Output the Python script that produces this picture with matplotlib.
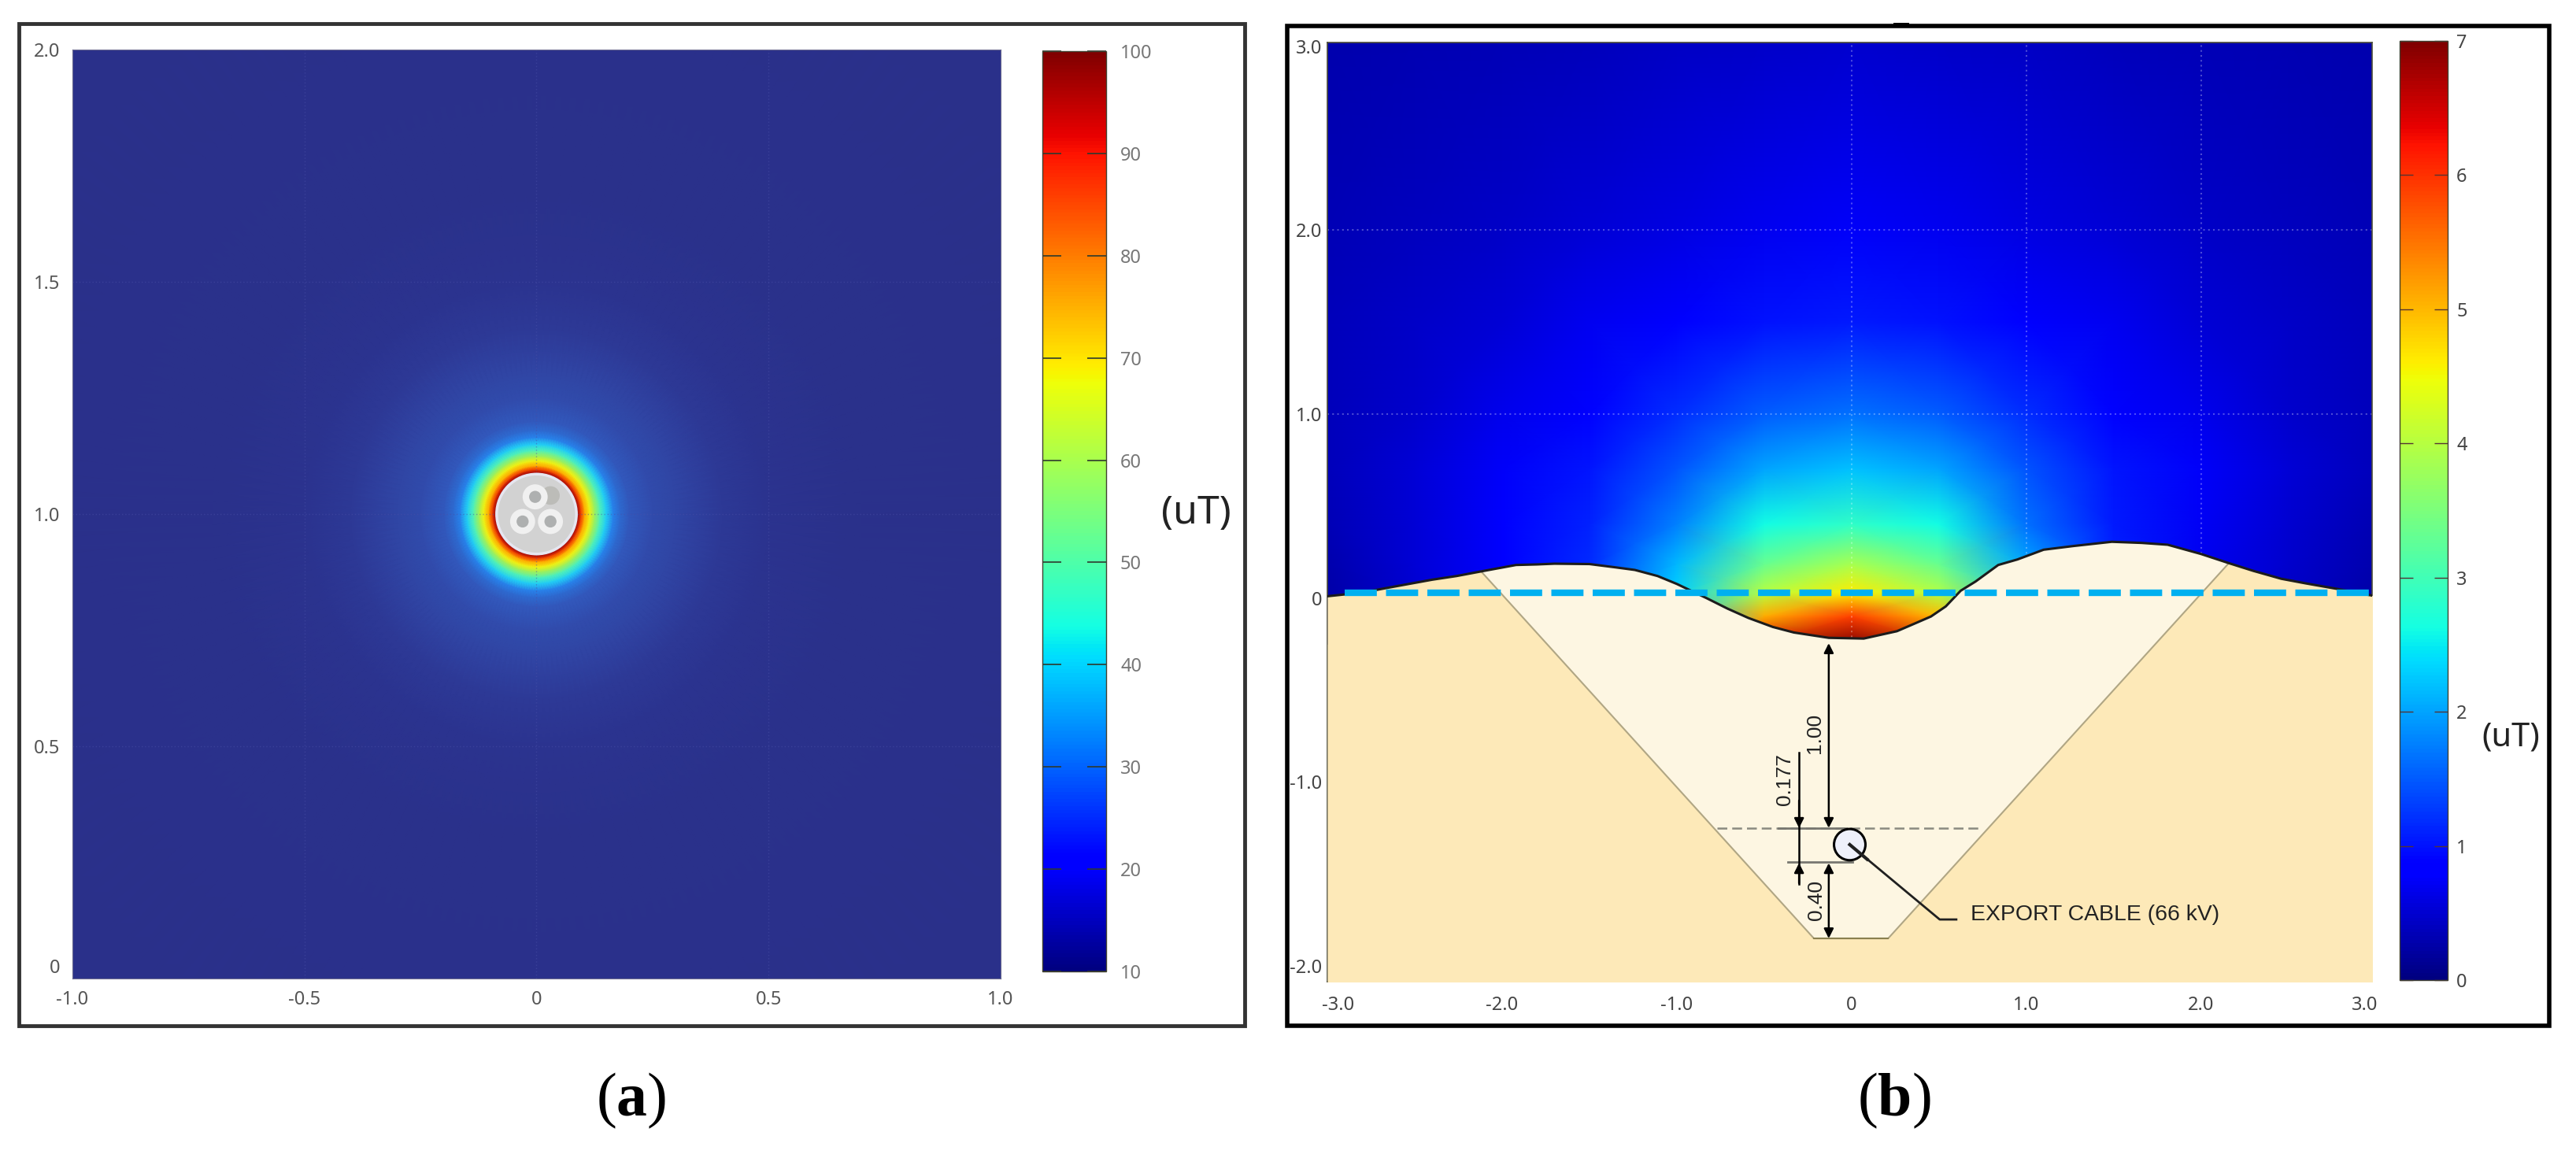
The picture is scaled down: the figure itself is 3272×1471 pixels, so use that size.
import numpy as np
import matplotlib
matplotlib.use("Agg")
import matplotlib.pyplot as plt
from matplotlib.cm import ScalarMappable
from matplotlib.colors import LinearSegmentedColormap, Normalize
from matplotlib.patches import Circle, Ellipse, Rectangle

W, H = 3273, 1471

plt.rcParams['font.family'] = ['Noto Sans', 'DejaVu Sans']
plt.rcParams['mathtext.fontset'] = 'custom'
plt.rcParams['mathtext.rm'] = 'Liberation Serif'
plt.rcParams['mathtext.bf'] = 'Liberation Serif:bold'

# panel a: field against distance from the cable centre
radius_a = [0.086, 0.09, 0.096, 0.104, 0.114, 0.125, 0.137, 0.15, 0.165, 0.18, 0.2,
            0.25, 0.3, 0.4, 0.5, 0.7, 1.45]
field_a = [100, 94, 84, 74, 65, 56, 47, 39, 30, 24, 19.5, 16.5, 15, 13, 11.5, 10.5, 10]
cable_center_a = (0.0, 1.0)
core_x = [-0.003, -0.03, 0.03]
core_y = [0.037, -0.016, -0.016]

# mesh colours of panel a are duller than its colour bar
mesh_values_a = [10, 12, 15, 20, 30, 38, 45, 55, 65, 75, 85, 95, 100]
mesh_colors_a = ['#2a308a', '#2c3491', '#3046a5', '#325abe', '#2882eb', '#1ec8fa', '#3cf0d2',
                 '#96f064', '#f0f014', '#ffaa00', '#f03c00', '#aa0a0a', '#780000']

# panel b: field read on a coarse grid, hidden below the sea bed
grid_x_b = [-3, -2.5, -2, -1.5, -1, -0.5, 0, 0.5, 1, 1.5, 2, 2.5, 3]
grid_y_b = [3.05, 2, 1.5, 1, 0.7, 0.4, 0.18, 0.03, -0.1, -0.25]
field_b = [
    [.30, .32, .34, .38, .42, .46, .48, .46, .42, .38, .34, .32, .30],
    [.34, .40, .46, .54, .62, .70, .74, .70, .62, .54, .46, .40, .34],
    [.36, .44, .54, .70, .86, 1.0, 1.05, 1.0, .86, .70, .54, .44, .36],
    [.38, .48, .66, .90, 1.2, 1.52, 1.65, 1.52, 1.2, .90, .66, .48, .38],
    [.38, .52, .74, 1.02, 1.45, 2.0, 2.2, 2.0, 1.45, 1.02, .74, .52, .38],
    [.34, .54, .78, 1.1, 1.75, 2.6, 2.85, 2.6, 1.65, 1.05, .72, .50, .32],
    [.28, .52, .80, 1.15, 2.15, 3.35, 3.9, 3.35, 2.05, 1.1, .70, .48, .28],
    [.25, .50, .80, 1.2, 2.3, 4.0, 4.6, 3.95, 2.3, 1.1, .70, .46, .25],
    [.20, .50, .80, 1.2, 2.4, 5.1, 5.9, 5.0, 2.4, 1.1, .70, .45, .20],
    [.20, .50, .80, 1.2, 2.5, 6.5, 7.0, 6.4, 2.5, 1.1, .70, .45, .20],
]

surface_x = [-3.0, -2.8, -2.66, -2.40, -2.26, -2.12, -1.92, -1.8, -1.70, -1.50, -1.35, -1.24, -1.11, -1.0,
             -0.83, -0.71, -0.59, -0.45, -0.33, -0.13, 0.07, 0.26, 0.37, 0.455, 0.54, 0.625, 0.71, 0.84, 0.95,
             1.10, 1.27, 1.49, 1.66, 1.81, 2.0, 2.16, 2.3, 2.46, 2.6, 2.78, 3.0]
surface_y = [0.01, 0.03, 0.055, 0.10, 0.12, 0.145, 0.18, 0.183, 0.187, 0.185, 0.167, 0.153, 0.12, 0.077,
             0.0, -0.057, -0.108, -0.157, -0.187, -0.216, -0.22, -0.18, -0.135, -0.10, -0.045, 0.04, 0.09, 0.18, 0.21,
             0.263, 0.283, 0.306, 0.30, 0.29, 0.24, 0.19, 0.148, 0.105, 0.08, 0.05, 0.01]
trench_x = [-2.12, -0.215, 0.21, 2.16]
trench_y = [0.145, -1.85, -1.85, 0.19]
cable_b = (-0.01, -1.34)

ticks_a_x = [-1.0, -0.5, 0.0, 0.5, 1.0]
labels_a_x = ['-1.0', '-0.5', '0', '0.5', '1.0']
ticks_a_y = [0.027, 0.5, 1.0, 1.5, 2.0]  # the 0 label sits above the corner
labels_a_y = ['0', '0.5', '1.0', '1.5', '2.0']
ticks_b_x = [-2.94, -2.0, -1.0, 0.0, 1.0, 2.0, 2.94]
labels_b_x = ['-3.0', '-2.0', '-1.0', '0', '1.0', '2.0', '3.0']
ticks_b_y = [-2.0, -1.0, 0.0, 1.0, 2.0, 3.0]
labels_b_y = ['-2.0', '-1.0', '0', '1.0', '2.0', '3.0']
cbar_ticks_a = [10, 20, 30, 40, 50, 60, 70, 80, 90, 100]
cbar_ticks_b = [0, 1, 2, 3, 4, 5, 6, 7]


def px_axes(fig, left, top, right, bottom):
    return fig.add_axes([left / W, 1 - bottom / H, (right - left) / W, (bottom - top) / H])


def px_frame(fig, left, top, right, bottom, color, lw):
    fig.add_artist(Rectangle((left / W, 1 - bottom / H), (right - left) / W, (bottom - top) / H,
                             transform=fig.transFigure, fill=False, ec=color, lw=lw))


def colorbar(fig, box, vmin, vmax, ticks, tick_len, tick_color, tick_lw, label_color, pad):
    cax = px_axes(fig, *box)
    sm = ScalarMappable(norm=Normalize(vmin, vmax), cmap='jet')
    cb = fig.colorbar(sm, cax=cax)
    cb.set_ticks(ticks)
    cb.set_ticklabels([str(t) for t in ticks])
    cax.tick_params(axis='y', direction='in', left=True, right=True, length=tick_len, width=tick_lw,
                    color=tick_color, labelsize=17, labelcolor=label_color, pad=pad)
    cb.outline.set_edgecolor('#404030')
    cb.outline.set_linewidth(1.0)
    return cb


fig = plt.figure(figsize=(W / 100, H / 100), dpi=100, facecolor='white')

px_frame(fig, 24, 30, 1581, 1303, '#333333', 3.5)
px_frame(fig, 1635, 33, 3238, 1303, '#000000', 4)
fig.add_artist(Rectangle((2405 / W, 1 - 35 / H), 20 / W, 6 / H, transform=fig.transFigure, fc='k', ec='none'))

# ---- panel a ----
ax_a = px_axes(fig, 92, 63, 1271, 1243)
theta = np.radians(np.arange(0, 361, 2))
rr, tt = np.meshgrid(radius_a, theta)
cc = np.tile(field_a, (len(theta), 1))
cmap_a = LinearSegmentedColormap.from_list(
    'mesh_a', [((v - 10) / 90, c) for v, c in zip(mesh_values_a, mesh_colors_a)])
ax_a.set_facecolor(mesh_colors_a[0])
ax_a.pcolormesh(cable_center_a[0] + rr * np.cos(tt), cable_center_a[1] + rr * np.sin(tt), cc,
                shading='gouraud', cmap=cmap_a, vmin=10, vmax=100)
for t in [-0.5, 0.0, 0.5]:
    ax_a.axvline(t, color='#4a50a8', lw=1, ls=(0, (1, 2)), alpha=0.5)
for t in [0.5, 1.0, 1.5]:
    ax_a.axhline(t, color='#4a50a8', lw=1, ls=(0, (1, 2)), alpha=0.5)
ax_a.add_patch(Circle(cable_center_a, radius_a[0], fc='#d2d2d2', ec='#e6e6f0', lw=2.5, zorder=4))
ax_a.add_patch(Circle((0.03, 1.04), 0.02, fc='#bcbcb8', ec='none', zorder=4))
for cx, cy in zip(core_x, core_y):
    ax_a.add_patch(Circle((cable_center_a[0] + cx, cable_center_a[1] + cy), 0.027, fc='#f0f0f0', ec='none', zorder=5))
    ax_a.add_patch(Circle((cable_center_a[0] + cx, cable_center_a[1] + cy), 0.013, fc='#aeb0b0', ec='none', zorder=6))
ax_a.set_xlim(-1, 1)
ax_a.set_ylim(0, 2)
ax_a.set_xticks(ticks_a_x, labels_a_x)
ax_a.set_yticks(ticks_a_y, labels_a_y)
ax_a.tick_params(length=0, labelsize=17, labelcolor='#555555')
ax_a.tick_params(axis='x', pad=11)
ax_a.tick_params(axis='y', pad=11)
for s in ax_a.spines.values():
    s.set_edgecolor('#6a6a90')
    s.set_linewidth(0.8)

colorbar(fig, (1324, 65, 1405, 1234), 10, 100, cbar_ticks_a, 17, '#2e3a2e', 1.2, '#777777', 13)
fig.text(1519 / W, 1 - 652 / H, '(uT)', fontsize=36, color='#222222', ha='center', va='center')

# ---- panel b ----
ax_b = px_axes(fig, 1686, 54, 3013, 1247)
gx, gy = np.meshgrid(grid_x_b, grid_y_b)
ax_b.pcolormesh(gx, gy, np.array(field_b), shading='gouraud', cmap='jet', vmin=0, vmax=7)
for t in [0.0, 1.0, 2.0]:
    ax_b.axvline(t, color='white', lw=1.5, ls=(0, (1, 2)), alpha=0.3, zorder=2)
for t in [1.0, 2.0]:
    ax_b.axhline(t, color='white', lw=1.5, ls=(0, (1, 2)), alpha=0.3, zorder=2)

# sea bed, then the backfilled trench over it
ax_b.fill_between(surface_x, surface_y, -2.2, color='#fde9b8', lw=0, zorder=3)
sx = np.array(surface_x)
sy = np.array(surface_y)
inside = (sx > trench_x[0]) & (sx < trench_x[-1])
poly_x = [trench_x[0]] + list(sx[inside]) + trench_x[::-1][:-1]
poly_y = [trench_y[0]] + list(sy[inside]) + trench_y[::-1][:-1]
ax_b.fill(poly_x, poly_y, color='#fdf6e2', lw=0, zorder=4)
ax_b.plot(trench_x, trench_y, color='#b0a684', lw=1.5, zorder=5)
ax_b.plot(surface_x, surface_y, color='#1c1c1c', lw=2.2, zorder=6)
ax_b.plot([-2.9, 3.0], [0.03, 0.03], color='#00b0f0', lw=6, ls=(0, (4.9, 1.4)), zorder=7, solid_capstyle='butt')

# trench dimensions
ax_b.plot([-0.77, 0.75], [-1.25, -1.25], color='#8a8a80', lw=1.8, ls=(0, (5, 2.5)), zorder=7)
ax_b.plot([-0.42, -0.03], [-1.25, -1.25], color='#777770', lw=2, zorder=7)
ax_b.plot([-0.365, 0.005], [-1.433, -1.433], color='#777770', lw=2, zorder=7)
ax_b.plot([-0.215, 0.21], [-1.85, -1.85], color='#8a8050', lw=1.5, zorder=7)
for y0, y1 in [(-0.245, -1.25), (-1.44, -1.85)]:
    ax_b.annotate('', xy=(-0.13, y1), xytext=(-0.13, y0), zorder=8,
                  arrowprops=dict(arrowstyle='<|-|>', color='k', lw=1.8, mutation_scale=18, shrinkA=0, shrinkB=0))
ax_b.plot([-0.30, -0.30], [-0.84, -1.555], color='k', lw=1.8, zorder=8)
ax_b.annotate('', xy=(-0.30, -1.25), xytext=(-0.30, -1.1), zorder=8,
              arrowprops=dict(arrowstyle='-|>', color='k', lw=1.8, mutation_scale=18, shrinkA=0, shrinkB=0))
ax_b.annotate('', xy=(-0.30, -1.44), xytext=(-0.30, -1.55), zorder=8,
              arrowprops=dict(arrowstyle='-|>', color='k', lw=1.8, mutation_scale=18, shrinkA=0, shrinkB=0))
ax_b.plot([cable_b[0], 0.505, 0.6], [cable_b[1], -1.747, -1.747], color='#202020', lw=2, zorder=8)
ax_b.add_patch(Ellipse(cable_b, 0.18, 0.17, fc='#eef0fa', ec='k', lw=2.2, zorder=8))
ax_b.plot([cable_b[0], 0.09], [cable_b[1], -1.42], color='#202020', lw=3, zorder=9)

dim_font = dict(family='Liberation Sans', fontsize=19, color='#222222', rotation=90,
                ha='center', va='center', zorder=9)
ax_b.text(-0.21, -0.735, '1.00', **dim_font)
ax_b.text(-0.38, -0.985, '0.177', **dim_font)
ax_b.text(-0.20, -1.64, '0.40', **dim_font)
ax_b.text(0.68, -1.72, 'EXPORT CABLE (66 kV)', family='Liberation Sans', fontsize=20.4, color='#222222',
          ha='left', va='center', zorder=9)

ax_b.set_xlim(-3.0, 2.98)
ax_b.set_ylim(-2.085, 3.02)
ax_b.set_xticks(ticks_b_x, labels_b_x)
ax_b.set_yticks(ticks_b_y, labels_b_y)
ax_b.tick_params(length=0, labelsize=17, labelcolor='#444444')
ax_b.tick_params(axis='x', pad=13)
ax_b.tick_params(axis='y', pad=5)
for s in ax_b.spines.values():
    s.set_edgecolor('#4a4a38')
    s.set_linewidth(1.2)

colorbar(fig, (3048, 52, 3109, 1245), 0, 7, cbar_ticks_b, 12, '#553333', 1.0, '#444444', 8)
fig.text(3189 / W, 1 - 937 / H, '(uT)', fontsize=30, color='#222222', ha='center', va='center')

# panel captions
fig.text(802 / W, 1 - 1398 / H, r'($\mathbf{a}$)', family='Liberation Serif', fontsize=56, ha='center', va='center')
fig.text(2406 / W, 1 - 1398 / H, r'($\mathbf{b}$)', family='Liberation Serif', fontsize=56, ha='center', va='center')

fig.savefig('out.png', dpi=100)
